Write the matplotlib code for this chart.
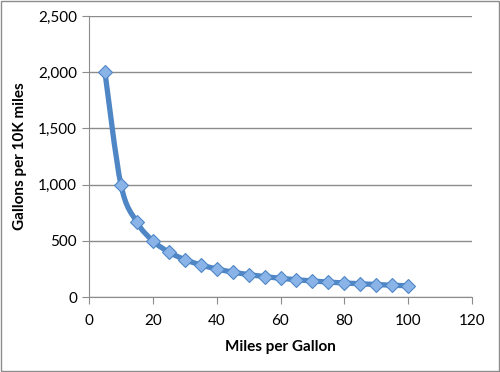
import matplotlib.pyplot as plt
import numpy as np
from matplotlib.path import Path
from matplotlib.patches import PathPatch, Rectangle
from matplotlib.ticker import FuncFormatter

mpg = [5, 10, 15, 20, 25, 30, 35, 40, 45, 50, 55, 60, 65, 70, 75, 80, 85, 90, 95, 100]
gallons = [2000, 1000, 667, 500, 400, 333, 286, 250, 222, 200, 182, 167, 154, 143,
           133, 125, 118, 111, 105, 100]

plt.rcParams['font.family'] = ['Lato', 'DejaVu Sans']

fig = plt.figure(figsize=(5, 3.72), dpi=100)
fig.patches.append(Rectangle((0.002, 0.003), 0.995, 0.994, transform=fig.transFigure,
                             fill=False, edgecolor='#8c8c8c', linewidth=1))
ax = fig.add_axes([0.178, 0.2016, 0.766, 0.755])


def smooth_path(xs, ys):
    # Catmull-Rom style bezier, like Excel's smoothed line
    pts = np.column_stack([xs, ys]).astype(float)
    verts = [pts[0]]
    codes = [Path.MOVETO]
    n = len(pts)
    for i in range(n - 1):
        p0 = pts[i - 1] if i > 0 else pts[i]
        p1 = pts[i]
        p2 = pts[i + 1]
        p3 = pts[i + 2] if i + 2 < n else pts[i + 1]
        c1 = p1 + (p2 - p0) / 6.0
        c2 = p2 - (p3 - p1) / 6.0
        verts += [c1, c2, p2]
        codes += [Path.CURVE4] * 3
    return Path(verts, codes)


ax.add_patch(PathPatch(smooth_path(mpg, gallons), facecolor='none',
                       edgecolor='#4f86c6', linewidth=3.8, zorder=3))
ax.plot(mpg, gallons, linestyle='none', marker='D', markersize=7.5,
        markerfacecolor='#8ab4e8', markeredgecolor='#4f86c6', markeredgewidth=0.8, zorder=4)

ax.set_xlim(0, 120)
ax.set_ylim(0, 2500)
ax.set_xticks(range(0, 121, 20))
ax.set_yticks(range(0, 2501, 500))
ax.yaxis.set_major_formatter(FuncFormatter(lambda v, p: f'{int(v):,}'))
ax.grid(axis='y', color='#8c8c8c', linewidth=1)
ax.set_axisbelow(True)
for s in ['top', 'right']:
    ax.spines[s].set_visible(False)
for s in ['left', 'bottom']:
    ax.spines[s].set_color('#8c8c8c')
ax.tick_params(axis='both', colors='#8c8c8c', labelcolor='black', labelsize=11, length=5)
ax.tick_params(axis='x', pad=7)

ax.set_xlabel('Miles per Gallon', fontsize=11, fontweight='bold', labelpad=9)
ax.set_ylabel('Gallons per 10K miles', fontsize=11, fontweight='bold', labelpad=8)

fig.savefig('out.png', dpi=100)
